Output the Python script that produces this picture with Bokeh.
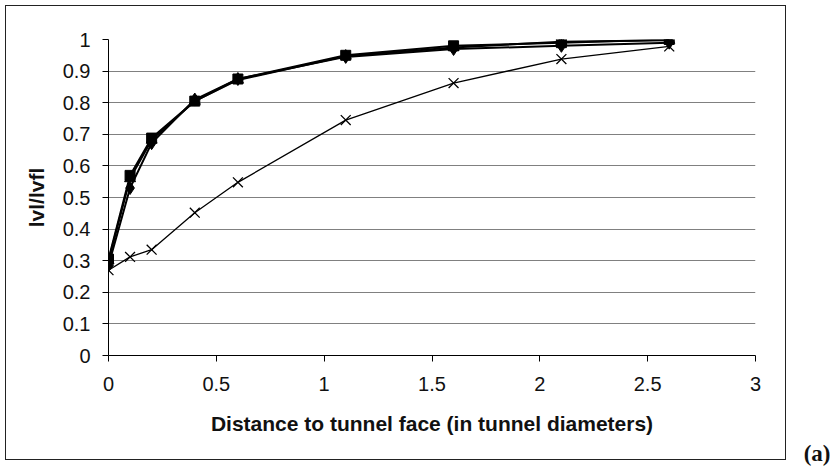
from bokeh.plotting import figure
from bokeh.models import Title, FixedTicker, NumeralTickFormatter, Range1d, InlineStyleSheet
from bokeh.embed import file_html
from bokeh.resources import INLINE

# ---- data ----
distance = [0, 0.1, 0.2, 0.4, 0.6, 1.1, 1.6, 2.1, 2.6]
series_diamond = [0.285, 0.53, 0.672, 0.81, 0.875, 0.945, 0.97, 0.98, 0.99]
series_square = [0.305, 0.57, 0.688, 0.805, 0.875, 0.95, 0.98, 0.99, 1.0]
series_triangle = [0.30, 0.56, 0.682, 0.805, 0.872, 0.948, 0.975, 0.993, 0.998]
series_cross = [0.27, 0.312, 0.335, 0.452, 0.548, 0.745, 0.862, 0.938, 0.978]
y_ticks = [0, 0.1, 0.2, 0.3, 0.4, 0.5, 0.6, 0.7, 0.8, 0.9, 1]
x_ticks = [0, 0.5, 1, 1.5, 2, 2.5, 3]
x_label = "Distance to tunnel face (in tunnel diameters)"
y_label = "lvl/lvfl"
panel_tag = "(a)"

FONT = "Liberation Sans"

# layout geometry (pixels)
W, H = 830, 466
LEFT, RIGHT, TOP, BOTTOM = 108, 755, 39, 355

p = figure(width=W, height=H, output_backend="svg", toolbar_location=None,
           x_range=Range1d(0, 3), y_range=Range1d(0, 1),
           min_border_left=LEFT, min_border_right=W - RIGHT,
           min_border_top=TOP, min_border_bottom=H - BOTTOM)
p.outline_line_color = None
p.background_fill_color = "white"
p.border_fill_color = "white"

# grid
p.xgrid.grid_line_color = None
p.ygrid.grid_line_color = "#808080"
p.ygrid.grid_line_width = 1
p.ygrid.ticker = FixedTicker(ticks=y_ticks)

# axes
for ax in (p.xaxis[0], p.yaxis[0]):
    ax.axis_line_color = "black"
    ax.axis_line_width = 1
    ax.major_tick_line_color = "black"
    ax.major_tick_in = 0
    ax.major_tick_out = 6
    ax.minor_tick_line_color = None
    ax.major_label_text_font = FONT
    ax.major_label_text_font_size = "20px"
    ax.major_label_text_color = "#111111"
    ax.axis_label_text_font = FONT
    ax.axis_label_text_font_style = "bold"
    ax.axis_label_text_font_size = "21px"
    ax.axis_label_text_color = "#111111"
    ax.formatter = NumeralTickFormatter(format="0.[0]")

p.xaxis.ticker = FixedTicker(ticks=x_ticks)
p.yaxis.ticker = FixedTicker(ticks=y_ticks)
p.xaxis.axis_label = x_label
p.yaxis.axis_label = y_label
p.xaxis.major_label_standoff = 15
p.xaxis.axis_label_standoff = 18
p.yaxis.major_label_standoff = 12
p.yaxis.axis_label_standoff = 12

# series
p.line(distance, series_diamond, line_color="black", line_width=2)
p.scatter(distance, series_diamond, marker="diamond", size=13, fill_color="black", line_color="black")

p.line(distance, series_triangle, line_color="black", line_width=2)
p.scatter(distance, series_triangle, marker="triangle", size=11, fill_color="black", line_color="black")

p.line(distance, series_square, line_color="black", line_width=2)
p.scatter(distance, series_square, marker="square", size=10, fill_color="black", line_color="black")

p.line(distance, series_cross, line_color="black", line_width=1.3)
p.scatter(distance, series_cross, marker="x", size=14, line_color="black", line_width=1.3)

# panel tag "(a)" outside the chart box, lower right
tag = Title(text=panel_tag, align="right", offset=-75, standoff=2,
            text_font="Liberation Serif", text_font_style="bold",
            text_font_size="23px", text_color="#111111")
p.add_layout(tag, "below")

# outer chart box (decoration drawn by a stylesheet on the figure)
p.stylesheets = [InlineStyleSheet(css=(
    ":host { position: relative; }\n"
    ":host::after { content: ''; position: absolute; left: 5px; top: 5px; "
    "width: 779px; height: 453px; border: 1.5px solid #222222; "
    "pointer-events: none; z-index: 10; box-sizing: content-box; }"
))]

html = file_html(p, INLINE)
html = html.replace("</head>", "<style>html,body{margin:0;padding:0;overflow:hidden;}</style></head>", 1)
open("out.html", "w").write(html)
